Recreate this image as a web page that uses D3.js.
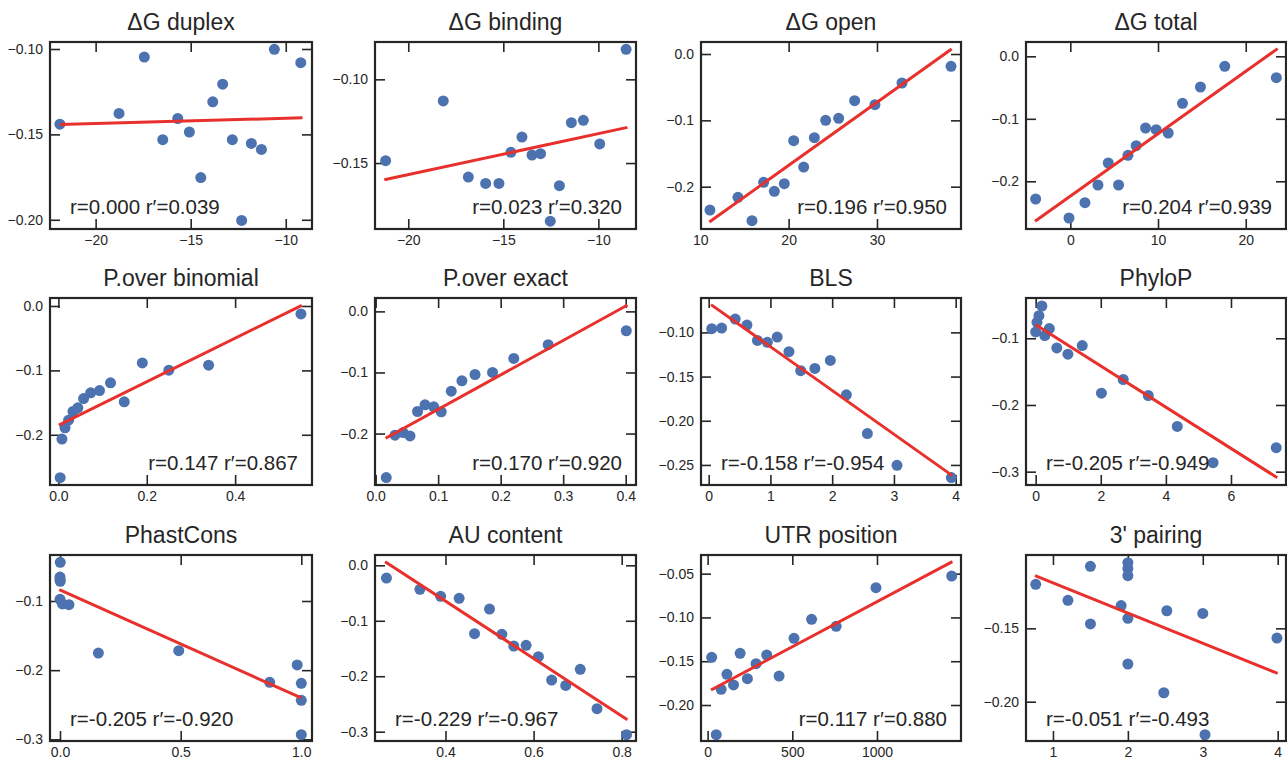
<!DOCTYPE html>
<html>
<head>
<meta charset="utf-8">
<script src="https://cdn.jsdelivr.net/npm/d3@7"></script>
<style>
  body { margin: 0; background: #fff; }
  svg { display: block; font-family: "Liberation Sans", Arial, sans-serif; }
</style>
</head>
<body>
<div id="chart"></div>
<script>
// panel titles, left to right, top to bottom
var titles = ['\u0394G duplex', '\u0394G binding', '\u0394G open', '\u0394G total',
              'P.over binomial', 'P.over exact', 'BLS', 'PhyloP',
              'PhastCons', 'AU content', 'UTR position', "3' pairing"];

var xVals = [
  [-21.88, -18.77, -17.44, -16.47, -15.68, -15.07, -14.47, -13.84, -13.32, -12.81, -12.32, -11.81, -11.28, -10.60, -9.21],
  [-21.19, -18.16, -16.84, -15.93, -15.23, -14.60, -14.02, -13.49, -13.04, -12.53, -12.05, -11.42, -10.79, -9.93, -8.54],
  [11.09, 14.26, 15.85, 17.17, 18.38, 19.51, 20.57, 21.70, 22.91, 24.19, 25.66, 27.47, 29.77, 32.83, 38.38],
  [-3.95, -0.15, 1.67, 3.15, 4.33, 5.50, 6.57, 7.51, 8.58, 9.79, 11.16, 12.79, 14.84, 17.61, 23.49],
  [0.004, 0.008, 0.015, 0.023, 0.033, 0.044, 0.057, 0.073, 0.093, 0.118, 0.149, 0.190, 0.250, 0.340, 0.549],
  [0.017, 0.031, 0.044, 0.055, 0.067, 0.079, 0.093, 0.105, 0.121, 0.138, 0.159, 0.187, 0.221, 0.276, 0.401],
  [0.05, 0.21, 0.43, 0.62, 0.79, 0.95, 1.11, 1.30, 1.49, 1.72, 1.97, 2.23, 2.57, 3.05, 3.93],
  [0.00, 0.04, 0.10, 0.19, 0.28, 0.42, 0.65, 0.99, 1.43, 2.02, 2.69, 3.46, 4.35, 5.45, 7.39],
  [0.001, 0.000, 0.000, 0.001, 0.000, 0.010, 0.037, 0.159, 0.492, 0.869, 0.983, 1.000, 1.000, 1.000],
  [0.266, 0.342, 0.389, 0.431, 0.466, 0.500, 0.528, 0.555, 0.583, 0.611, 0.641, 0.673, 0.706, 0.744, 0.811],
  [24, 51, 80, 114, 153, 192, 235, 286, 349, 422, 510, 614, 759, 994, 1441],
  [0.77, 1.20, 1.50, 1.50, 1.91, 2.00, 2.00, 2.00, 2.00, 2.00, 2.48, 2.52, 3.00, 3.03, 3.99]
];

var yVals = [
  [-0.144, -0.1377, -0.1047, -0.1531, -0.1407, -0.1486, -0.1753, -0.1309, -0.1206, -0.1531, -0.2004, -0.1553, -0.1588, -0.1002, -0.108],
  [-0.1486, -0.1129, -0.1584, -0.1622, -0.1622, -0.1436, -0.1345, -0.1452, -0.1444, -0.1847, -0.1635, -0.1259, -0.1245, -0.1386, -0.0821],
  [-0.2352, -0.2161, -0.2513, -0.1935, -0.207, -0.1955, -0.1307, -0.1704, -0.1261, -0.1, -0.097, -0.0704, -0.0764, -0.0437, -0.0186],
  [-0.2283, -0.2587, -0.2341, -0.2059, -0.1707, -0.2059, -0.1584, -0.1429, -0.1147, -0.1173, -0.1227, -0.0752, -0.0491, -0.016, -0.0341],
  [-0.2667, -0.2067, -0.1891, -0.1773, -0.1638, -0.1581, -0.1437, -0.1349, -0.1313, -0.1194, -0.1488, -0.0884, -0.0997, -0.092, -0.0124],
  [-0.2721, -0.2027, -0.1984, -0.2038, -0.1639, -0.153, -0.1563, -0.1645, -0.1306, -0.1137, -0.1033, -0.1, -0.077, -0.0546, -0.0317],
  [-0.0958, -0.0951, -0.0849, -0.0917, -0.1091, -0.1113, -0.1053, -0.1219, -0.1434, -0.1408, -0.1317, -0.1706, -0.2145, -0.2504, -0.2643],
  [-0.0905, -0.0761, -0.0661, -0.0516, -0.096, -0.0855, -0.1145, -0.1239, -0.111, -0.1823, -0.1618, -0.1858, -0.2322, -0.2865, -0.2641],
  [-0.0441, -0.0654, -0.0687, -0.0716, -0.0976, -0.1043, -0.1053, -0.1752, -0.1718, -0.2176, -0.1925, -0.219, -0.2436, -0.2932],
  [-0.0229, -0.0433, -0.0559, -0.0595, -0.1233, -0.0788, -0.1245, -0.1455, -0.1443, -0.1648, -0.2069, -0.2165, -0.1876, -0.2586, -0.3055],
  [-0.1455, -0.2339, -0.1821, -0.165, -0.1771, -0.141, -0.1699, -0.1528, -0.1429, -0.1669, -0.1239, -0.1022, -0.1101, -0.066, -0.0527],
  [-0.12, -0.1309, -0.1077, -0.147, -0.1345, -0.1052, -0.1093, -0.1141, -0.1432, -0.1743, -0.1939, -0.138, -0.1398, -0.2225, -0.1566]
];

// fitted line end points
var fitX = [[-21.88, -9.12], [-21.26, -8.47], [11.02, 38.45], [-4.02, 23.64],
            [0.001, 0.551], [0.016, 0.403], [0.038, 3.946], [0.0, 7.42],
            [-0.003, 1.0], [0.263, 0.813], [20, 1445], [0.76, 4.0]];
var fitY = [[-0.1442, -0.1403], [-0.16, -0.1287], [-0.2533, 0.0075], [-0.264, 0.0123],
            [-0.185, 0.001], [-0.2077, 0.0104], [-0.0686, -0.2621], [-0.0796, -0.309],
            [-0.0836, -0.2402], [0.0066, -0.2784], [-0.1829, -0.0363], [-0.1141, -0.1807]];

var rVals =      [0.000, 0.023, 0.196, 0.204, 0.147, 0.170, -0.158, -0.205, -0.205, -0.229, 0.117, -0.051];
var rPrimeVals = [0.039, 0.320, 0.950, 0.939, 0.867, 0.920, -0.954, -0.949, -0.920, -0.967, 0.880, -0.493];
var noteSide = ['left', 'right', 'right', 'right', 'right', 'right', 'left', 'left', 'left', 'left', 'right', 'left'];

var xDomains = [[-22.4, -8.62], [-21.75, -8.02], [10.08, 39.51], [-5.05, 24.59],
                [-0.019, 0.574], [-0.001, 0.4165], [-0.124, 4.086], [-0.297, 7.69],
                [-0.0415, 1.0443], [0.24, 0.8325], [-39, 1496], [0.64, 4.111]];
var yDomains = [[-0.2054, -0.0959], [-0.1894, -0.0777], [-0.2638, 0.0181], [-0.2763, 0.0229],
                [-0.278, 0.0124], [-0.2842, 0.0219], [-0.2727, -0.0611], [-0.32, -0.0396],
                [-0.3024, -0.0335], [-0.3168, 0.0186], [-0.2411, -0.0287], [-0.2268, -0.10]];

var xTicks = [[-20, -15, -10], [-20, -15, -10], [10, 20, 30], [0, 10, 20],
              [0, 0.2, 0.4], [0, 0.1, 0.2, 0.3, 0.4], [0, 1, 2, 3, 4], [0, 2, 4, 6],
              [0, 0.5, 1], [0.4, 0.6, 0.8], [0, 500, 1000], [1, 2, 3, 4]];
var yTicks = [[-0.10, -0.15, -0.20], [-0.10, -0.15], [0, -0.1, -0.2], [0, -0.1, -0.2],
              [0, -0.1, -0.2], [0, -0.1, -0.2], [-0.10, -0.15, -0.20, -0.25], [-0.1, -0.2, -0.3],
              [-0.1, -0.2, -0.3], [0, -0.1, -0.2, -0.3], [-0.05, -0.10, -0.15, -0.20], [-0.15, -0.20]];
var xDigits = [0, 0, 0, 0, 1, 1, 0, 0, 1, 1, 0, 0];
var yDigits = [2, 2, 1, 1, 1, 1, 2, 1, 1, 1, 2, 2];

var W = 1287, H = 759;
var colLeft  = [50, 375, 701, 1026];
var colRight = [312, 636, 961, 1286];
var rowTop    = [42, 298, 555];
var rowBottom = [229, 485, 741];

var INK = '#262626';
var DOT = '#4c72b0';
var FIT = '#e8302c';
var TICK_LEN = 10;

var svg = d3.select('#chart').append('svg')
    .attr('width', W)
    .attr('height', H);

svg.append('rect')
    .attr('width', W)
    .attr('height', H)
    .attr('fill', '#fff');

titles.forEach(function (title, i) {
  var col = i % 4, row = Math.floor(i / 4);
  var left = colLeft[col], right = colRight[col];
  var top = rowTop[row], bottom = rowBottom[row];

  var x = d3.scaleLinear().domain(xDomains[i]).range([left, right]);
  var y = d3.scaleLinear().domain(yDomains[i]).range([bottom, top]);

  var g = svg.append('g');

  // axes with ticks pointing inward on all four sides
  var fx = d3.format('.' + xDigits[i] + 'f');
  var fy = d3.format('.' + yDigits[i] + 'f');

  function styleAxis(sel) {
    sel.select('.domain').remove();
    sel.selectAll('.tick line')
        .attr('stroke', INK)
        .attr('stroke-width', 1.6);
    sel.selectAll('.tick text')
        .attr('fill', INK)
        .style('font-size', '14px')
        .style('font-family', '"Liberation Sans", Arial, sans-serif');
  }

  g.append('g')
      .attr('transform', 'translate(0,' + bottom + ')')
      .call(d3.axisBottom(x).tickValues(xTicks[i]).tickFormat(fx)
          .tickSizeInner(-TICK_LEN).tickSizeOuter(0).tickPadding(6))
      .call(styleAxis);

  g.append('g')
      .attr('transform', 'translate(0,' + top + ')')
      .call(d3.axisTop(x).tickValues(xTicks[i]).tickFormat('')
          .tickSizeInner(-TICK_LEN).tickSizeOuter(0))
      .call(styleAxis);

  g.append('g')
      .attr('transform', 'translate(' + left + ',0)')
      .call(d3.axisLeft(y).tickValues(yTicks[i]).tickFormat(fy)
          .tickSizeInner(-TICK_LEN).tickSizeOuter(0).tickPadding(7))
      .call(styleAxis);

  g.append('g')
      .attr('transform', 'translate(' + right + ',0)')
      .call(d3.axisRight(y).tickValues(yTicks[i]).tickFormat('')
          .tickSizeInner(-TICK_LEN).tickSizeOuter(0))
      .call(styleAxis);

  // points
  g.append('g')
    .selectAll('circle')
    .data(xVals[i].map(function (v, k) { return [v, yVals[i][k]]; }))
    .enter().append('circle')
      .attr('cx', function (d) { return x(d[0]); })
      .attr('cy', function (d) { return y(d[1]); })
      .attr('r', 5.5)
      .attr('fill', DOT);

  // fitted line
  var line = d3.line()
      .x(function (d) { return x(d[0]); })
      .y(function (d) { return y(d[1]); });

  g.append('path')
      .datum([[fitX[i][0], fitY[i][0]], [fitX[i][1], fitY[i][1]]])
      .attr('d', line)
      .attr('fill', 'none')
      .attr('stroke', FIT)
      .attr('stroke-width', 3);

  // frame
  g.append('rect')
      .attr('x', left)
      .attr('y', top)
      .attr('width', right - left)
      .attr('height', bottom - top)
      .attr('fill', 'none')
      .attr('stroke', INK)
      .attr('stroke-width', 2.2);

  // title
  g.append('text')
      .attr('x', (left + right) / 2)
      .attr('y', top - 12)
      .attr('text-anchor', 'middle')
      .attr('fill', INK)
      .style('font-size', '23px')
      .text(title);

  // correlation note
  var onLeft = noteSide[i] === 'left';
  g.append('text')
      .attr('x', onLeft ? left + 20 : right - 14)
      .attr('y', bottom - 15)
      .attr('text-anchor', onLeft ? 'start' : 'end')
      .attr('fill', INK)
      .style('font-size', '20.5px')
      .text('r=' + rVals[i].toFixed(3) + ' r\u2032=' + rPrimeVals[i].toFixed(3));
});
</script>
</body>
</html>
